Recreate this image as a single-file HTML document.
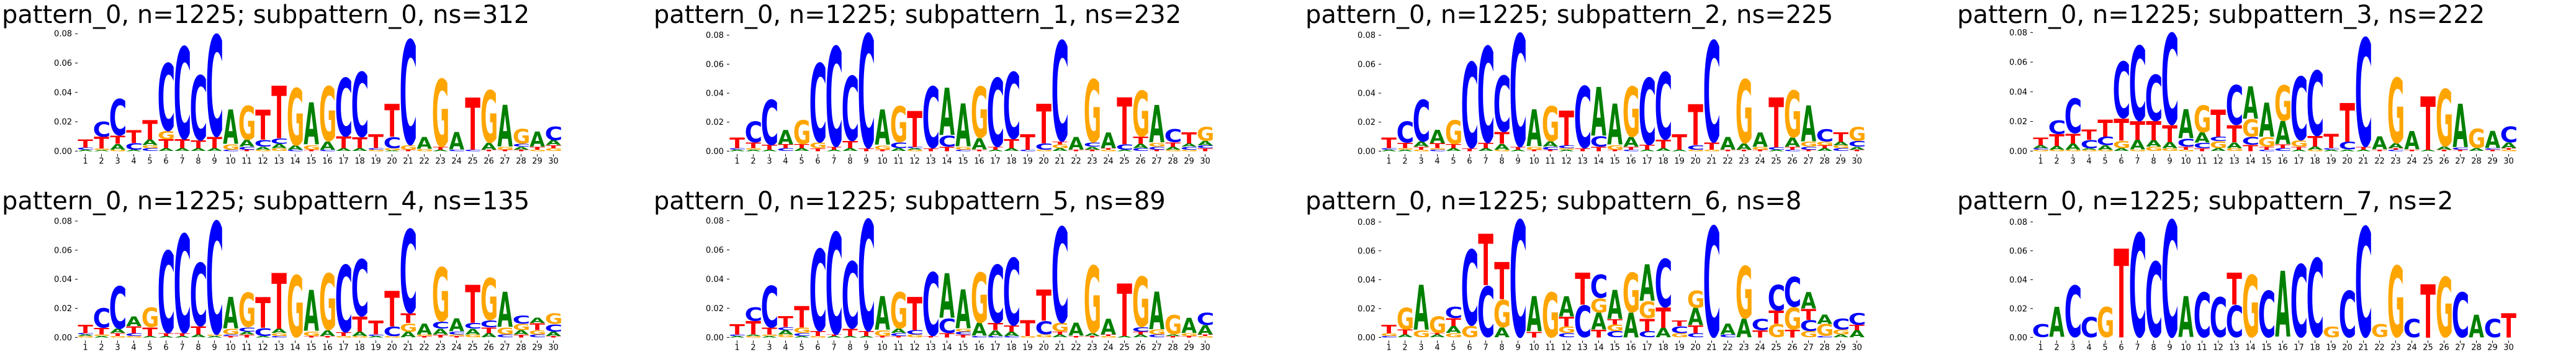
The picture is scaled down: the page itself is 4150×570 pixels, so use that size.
<!DOCTYPE html>
<html><head><meta charset="utf-8">
<style>
html,body{margin:0;padding:0;background:#fff;width:4150px;height:570px;overflow:hidden;}
svg{display:block;}
text{font-family:"DejaVu Sans","Liberation Sans",sans-serif;}
</style></head>
<body>
<svg id="root" width="4150" height="570" viewBox="0 0 4150 570" xmlns="http://www.w3.org/2000/svg" style="overflow:hidden"></svg>
<script>
// Stacks per position, bottom-to-top, values in units of 0.001
const sub0 = ["A1 C1.5 T5.5","A0.8 G1 T8 C10.5","G1 A4 T5.5 C25.5","A1 C4.5 T9","C2 G2 A4 T13.5","A2 T6 G5.7 C47.3","A2 T6 C64.7","A2 T5.3 C45.4","A2 T7.8 C71.2","C1 G3.6 A23.7","T1 C2 A4.7 G23.8","G1 A2 C4.7 T20.6","G2 A3 C3.7 T36.3","C1 A2.9 G40.1","T1 G3.2 A28.9","C1 A5.6 G38.4","A2 T8 C41","A2 T7.5 C45.5","G1 C1 T9.5","A0.5 G1.5 C7.8 T22.6","T1 G3.2 C73.4","G1.5 A8","A1 T1.8 G47.5","C1 A11.9","C1 T36","T1 A4.6 G36.8","T1 G2 A28.7","T1 A2 C2 G10.4","G1 T2 A10.3","G2 T2 A3.5 C9.3"];
const sub1 = ["A1 C1 T7.3","A1 G1 T4 C14.7","A1 T3.3 C32.1","C2 T2.7 A10","A2 T2.7 G17","T2 G4 C56","A1 T2 C71","A2 T5 C46","T2 C80.9","T1 G3 A24.6","A2 C4 G25.7","G1 A1 C1 T25.3","T2 C43.7","T3 C7.7 A33.2","C1 G2 A30","T1 A8 G36.4","A1 T2 C48.7","A2 T6.3 C47.4","C1 T10.7","G1 C4.3 T27.7","A2 G2.7 T2 C71.2","T1 A8.7","T1 A2 C3 G44.7","G1 T1 A11","A1 C3.7 T32.7","C2 A3 T5 G32.6","T1 C2 G2.7 A26","G1 A2 T3 C9.3","G1 C2 A2.3 T8","T2 C2 A3 G9.9"];
const sub2 = ["A1 C1 T7.3","A1 G1 T3.7 C15","G1 T2 A3.7 C29.7","C1 G1 T3.3 A9.4","A2 T2.7 G17","T2 C60.9","A2 T3.7 C68.3","G1 A4 T8.1 C39.8","A1 T2 C79.9","T1 G2 A25.6","T1 C2 A3.7 G25","A1 G1 C2 T24.3","T2 C44","T3 C7.3 A34","T1 G3.3 A28.7","C1 T2 A6.7 G35.7","A1 T3.3 C47.4","A2 T5.9 C47.8","A1 T10.7","G1 C3.3 T28.7","G1 T5 C72","T1 A8.7","T1 A4.3 G45.4","T1 G2 A10","A1 C1.6 T34.8","C1 T2 A6.3 G33.3","T1 C2 G3.4 A25.3","A2 T2 G2.7 C8.6","C2 G2 A2.4 T6.9","T1 A2 C4.1 G9.8"];
const sub3 = ["G1 C1 A2 T5.1","G1 A2.5 T8 C9.2","G1 A4.2 T6.7 C24.1","G1 A1 C5.7 T7","G1 A3 C5.8 T11.6","A2 G5 T15 C39.2","G1 A6.7 T12.6 C52","G3 A4.4 T12.9 C32.1","G2 A4 T11.7 C63.3","G1 T2 C5.4 A19.8","T2 C3.6 A7 G18.8","A2 G4.7 C3.1 T18.4","G2 A3.9 T11.6 C27.5","T4.2 C5.3 G12.1 A22","C1 T2 G6.5 A23.3","C2 T2.5 A15.8 G24.7","A1 T2 G4.3 C44","G1 A2.1 T7.1 C45.2","A1 C1 T9.6","A1 C5.3 T26.5","A1 T2 C75.2","T1 A8.8","C1 T1 A3.2 G45.4","T1 A12.3","A1 T36.4","T1 A2.2 G39.7","T1 C1.5 A29.6","A2 G13.4","T1 C1 A11.7","G1 T1 A3.9 C11.1"];
const sub4 = ["G1 A1 C1 T5.9","A1 G1 T4.6 C13.8","G1 T2 A3 C30","G1 C2 T4.7 A6.8","A1 T6 G14","A1 T2 C58","A1 T2 C69.8","A2 T5.7 C44.7","A1 G1 C79.7","T1 C1 G3.9 A22","T2 A2 C3 G24.4","A1 C5.6 T21.3","C1 G2 A3 T38.8","G43.9","T1 G3.2 A28.5","T1 A4 G40","G1 T2.5 C47.5","G1 A3 T10.5 C40.1","A1 C1 T9.5","G1 C6.7 T24.7","A4 G5.9 T6.7 C59.2","T1 G1 A7.6","T2 A4 C5 G38.3","T1 G1 C2 A9","G2 A4 C4 T26.6","A3 T4 C5 G29.8","C2 G4.8 A24.5","T2 A3 G4.4 C5.8","C2 G3 T4.9 A3.5","T1 A3 C5.2 G7.4"];
const sub5 = ["A1 C1 T6.9","G1 A1 T9.3 C9.6","A1 G1 T4.7 C29.5","G2 A3 C2.1 T7.5","A1 C2 G3.7 T14.9","G1 T3.3 C57.7","A1 T1 C71.8","A1 T5 C47.2","A1 T3.3 C78.3","T1 G4 A23.4","T1 C2 A3 G25.6","G2 C3 T23.1","T1 C44.7","T3 C10.2 A30.8","T2 C2 G2 A27","C1 A8.9 G35.5","C1 A4 T4.9 C41.1","C1 A3 T4.1 C47.5","G1 T10.8","G2 C9.3 T21.6","A2 T2 G5.9 C67.4","T1 A8.9","T1 A2 G47.4","G1 T1 A11","A1 T36.6","A2 T2 C3.1 G35.5","C2 G3.4 A26.2","T1 A1 G13.6","T1 G2 A10.5","G1 T1 A6.5 C8.5"];
const sub6 = ["C1 G2 T6","A2 T3.3 G15.5","G5 A31.6","A2 T1 G11.8","G3 A4.9 T5.4 C8.2","G8.2 C53.9","C36.3 T36.1","A6.9 G19.6 T26.1","C83.2","T3.9 A24.8","G32","C3 G4.6 T6.7 A14.1","C22.7 T22.5","T5.4 A11.8 G10 C16.5","C4.3 G4.7 T3.6 A20.4","A17.2 G28.2","C4.3 T8.9 G11.9 A25.4","A6.7 T14.1 C34.4","G2.9 C5 T3.9","C3 T5.3 A12.2 G12.2","C78.9","C2 A7.7","A12.9 G37.3","T5 C8.2","G9.3 T9.3 C18.4","T5.4 G15.7 C21.2","G4.3 C7.9 T7.6 A11.7","C1 G8.3 A6.5","A2 G3.4 C7.8","A5 T3.6 C8.3"];
const sub7 = ["C9.3","A21","C36.6","C14.6","G21.5","T62.4","C74.1","C53.8","C83.2","A28.7","C32","C28.7","C22.7 T22.5","G44.4","C33.3","A46.2","C51.9","C56.3","G7.6","C33.3","C78.6","G9.3","G50.9","C13.2","T37.6","G43","C32","A15.8","C13.2","T16.9"];
const panelData = [sub0, sub1, sub2, sub3, sub4, sub5, sub6, sub7];
const titleNames = ["subpattern_0","subpattern_1","subpattern_2","subpattern_3","subpattern_4","subpattern_5","subpattern_6","subpattern_7"];
const titleNs = [312, 232, 225, 222, 135, 89, 8, 2];
const yTicks = [0, 0.02, 0.04, 0.06, 0.08];
const yTickLabels = ["0.00","0.02","0.04","0.06","0.08"];

const NS = "http://www.w3.org/2000/svg";
const root = document.getElementById("root");
const colors = {A:"#008000", C:"#0000ff", G:"#ffa500", T:"#ff0000"};
const colOffset = 1050, rowOffset = 300;
const zeroY = [243.3, 543.3];
const top08 = [[54.2,56.7,56.7,52.3],[356,355.3,357.3,357.3]];
const pos1X = 137.5, step = 26, letterW = 24.6;

const cv = document.createElement("canvas").getContext("2d");
cv.font = "bold 100px 'DejaVu Sans'";
const metrics = {};
["A","C","G","T"].forEach(ch => {
  const m = cv.measureText(ch);
  metrics[ch] = {l:m.actualBoundingBoxLeft, r:m.actualBoundingBoxRight, a:m.actualBoundingBoxAscent, d:m.actualBoundingBoxDescent};
});

function mk(tag, attrs, parent){
  const e = document.createElementNS(NS, tag);
  for (const k in attrs) e.setAttribute(k, attrs[k]);
  parent.appendChild(e);
  return e;
}

panelData.forEach((stacks, p) => {
  const row = Math.floor(p/4), col = p%4;
  const ox = col*colOffset;
  const y0 = zeroY[row];
  const pxPerUnit = (y0 - top08[row][col]) / 0.08;
  const yScale = v => y0 - v*pxPerUnit;
  const xScale = i => ox + pos1X + i*step;

  const g = mk("g", {}, root);
  
  

  const t = mk("text", {x: ox+3, y: row*rowOffset+37, "font-size": 40, fill:"#000"}, g);
  
  
  t.textContent = "pattern_0, n=1225; " + titleNames[p] + ", ns=" + titleNs[p];

  yTicks.forEach((v, k) => {
    const yy = yScale(v);
    const tk = mk("line", {x1: ox+121, x2: ox+125, y1: yy, y2: yy, stroke:"#000", "stroke-width":1}, g);
    
    
    const lb = mk("text", {x: ox+116, y: yy+4.5, "font-size": 13, "text-anchor":"end", fill:"#000"}, g);
    
    
    lb.textContent = yTickLabels[k];
  });

  stacks.forEach((s, i) => {
    const cx = xScale(i);
    const tk = mk("line", {x1: cx, x2: cx, y1: y0+5, y2: y0+9, stroke:"#000", "stroke-width":1}, g);
    
    
    const lb = mk("text", {x: cx, y: y0+20, "font-size": 13, "text-anchor":"middle", fill:"#000"}, g);
    
    
    lb.textContent = String(i+1);

    let cum = 0;
    s.split(" ").forEach(tok => {
      const ch = tok[0];
      const v = parseFloat(tok.slice(1)) / 1000;
      const yb = yScale(cum), yt = yScale(cum + v);
      cum += v;
      const h = yb - yt;
      if (h <= 0.05) return;
      const m = metrics[ch];
      const gw = (m.l + m.r) || 70, gh = (m.a + m.d) || 73;
      const sx = letterW / gw, sy = h / gh;
      const x0 = cx - letterW/2;
      const el = mk("text", {
        x: 0, y: 0, "font-size": 100, "font-weight": "bold", fill: colors[ch],
        transform: `translate(${x0},${yt}) scale(${sx},${sy}) translate(${m.l},${m.a})`
      }, g);
      
      
      el.textContent = ch;
    });
  });
});
</script>
</body></html>
